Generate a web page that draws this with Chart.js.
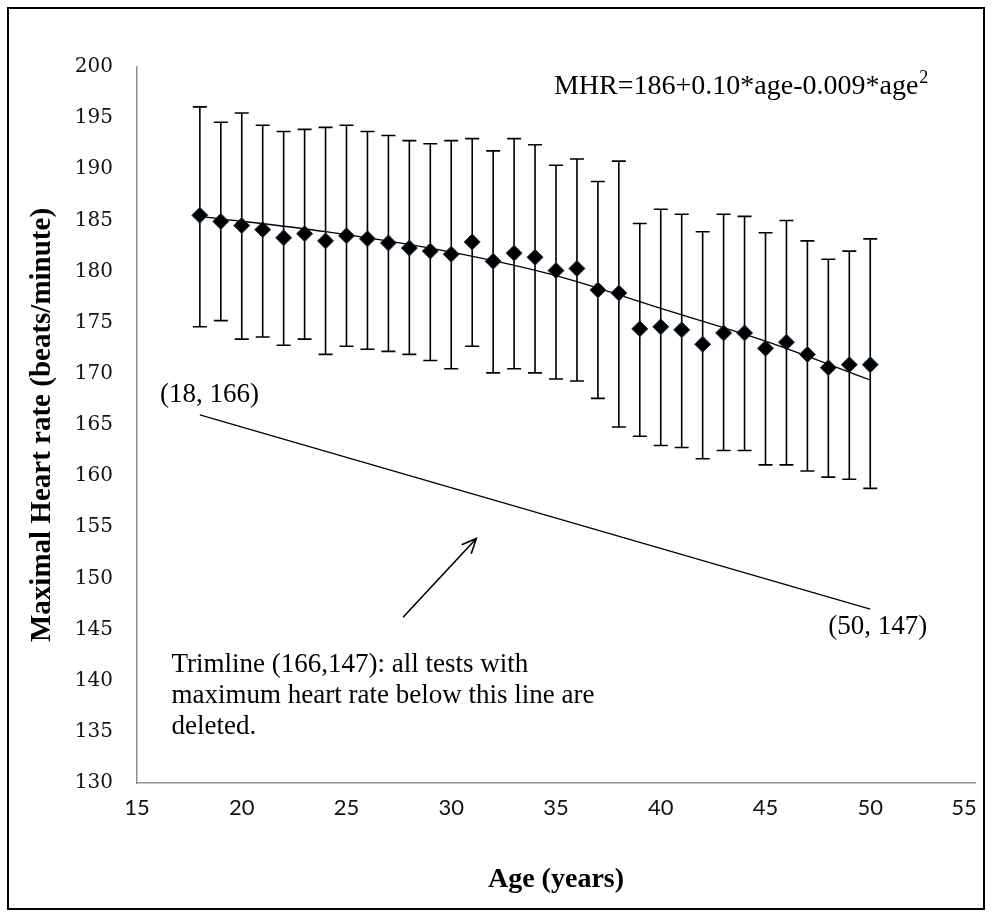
<!DOCTYPE html>
<html>
<head>
<meta charset="utf-8">
<script src="https://cdn.jsdelivr.net/npm/chart.js@4.4.1/dist/chart.umd.min.js"></script>
<style>
  html, body { margin: 0; padding: 0; background: #fff; }
  #wrap { width: 992px; height: 917px; }
</style>
</head>
<body>
<div id="wrap"><canvas id="mhr" width="992" height="917"></canvas></div>
<script>
//------------------------------------------------------------------
// Maximal heart rate by age, with SD bars, fit and trimline
//------------------------------------------------------------------
const ages = [18, 19, 20, 21, 22, 23, 24, 25, 26, 27, 28, 29, 30, 31, 32, 33, 34,
              35, 36, 37, 38, 39, 40, 41, 42, 43, 44, 45, 46, 47, 48, 49, 50];
const mhrMean = [185.5, 184.9, 184.5, 184.1, 183.3, 183.7, 183.0, 183.5, 183.2, 182.8, 182.3, 182.0, 181.7, 182.9, 181.0, 181.8, 181.4,
                 180.1, 180.3, 178.2, 177.9, 174.4, 174.6, 174.3, 172.9, 174.0, 174.0, 172.5, 173.1, 171.9, 170.6, 170.9, 170.9];
const mhrUpper = [196.1, 194.6, 195.5, 194.3, 193.7, 193.9, 194.1, 194.3, 193.7, 193.3, 192.8, 192.5, 192.8, 193.0, 191.8, 193.0, 192.4,
                  190.4, 191.0, 188.8, 190.8, 184.7, 186.1, 185.6, 183.9, 185.6, 185.4, 183.8, 185.0, 183.0, 181.2, 182.0, 183.2];
const mhrLower = [174.6, 175.2, 173.4, 173.6, 172.8, 173.4, 171.9, 172.7, 172.4, 172.2, 171.9, 171.3, 170.5, 172.7, 170.1, 170.5, 170.1,
                  169.5, 169.3, 167.6, 164.8, 163.9, 163.0, 162.8, 161.7, 162.5, 162.5, 161.1, 161.1, 160.5, 159.9, 159.7, 158.8];

// fitted curve
const trendAges = [18, 24, 30, 35, 40, 45, 50];
const trendMhr = [185.4, 183.9, 181.9, 179.6, 176.4, 173.2, 169.4];

// trimline end points
const trimAges = [18, 50];
const trimMhr = [166, 147];

// axes
const xRange = [15, 55, 5];
const yRange = [130, 200, 5];

const formulaText = 'MHR=186+0.10*age-0.009*age';
const formulaSup = '2';
const noteLines = ['Trimline (166,147): all tests with',
                   'maximum heart rate below this line are',
                   'deleted.'];
const endLabels = [
    {text: '(18, 166)', x: 16.1, y: 167.9},
    {text: '(50, 147)', x: 48.0, y: 145.3}
];
const arrowFrom = {x: 27.7, y: 146.2};
const arrowTo = {x: 31.2, y: 153.9};

const SERIF = '"Liberation Serif", "Times New Roman", serif';

/**
 * @name errorBars - vertical SD bars with caps, under the diamonds
 */
const errorBars = {
    id: 'errorBars',
    beforeDatasetsDraw(chart) {
        const {ctx, scales: {x, y}} = chart;
        ctx.save();
        ctx.strokeStyle = '#000';
        ctx.lineWidth = 1.6;
        ages.forEach((a, i) => {
            const px = x.getPixelForValue(a);
            const top = y.getPixelForValue(mhrUpper[i]);
            const bot = y.getPixelForValue(mhrLower[i]);
            ctx.beginPath();
            ctx.moveTo(px, top); ctx.lineTo(px, bot);
            ctx.moveTo(px - 7, top); ctx.lineTo(px + 7, top);
            ctx.moveTo(px - 7, bot); ctx.lineTo(px + 7, bot);
            ctx.stroke();
        });
        ctx.restore();
    }
};

/**
 * @name notes - formula, labels, arrow, frame
 */
const notes = {
    id: 'notes',
    afterDraw(chart) {
        const {ctx, scales: {x, y}} = chart;
        ctx.save();
        // outer frame
        ctx.strokeStyle = '#000';
        ctx.lineWidth = 2;
        ctx.strokeRect(8, 8, 976, 901);

        ctx.fillStyle = '#000';
        ctx.textBaseline = 'middle';
        ctx.textAlign = 'left';

        // formula
        ctx.font = '28px ' + SERIF;
        const fx = x.getPixelForValue(34.9), fy = y.getPixelForValue(198.1);
        ctx.fillText(formulaText, fx, fy);
        const w = ctx.measureText(formulaText).width;
        ctx.font = '18px ' + SERIF;
        ctx.fillText(formulaSup, fx + w + 1, fy - 8);

        // end labels of trimline
        ctx.font = '27px ' + SERIF;
        endLabels.forEach(l => ctx.fillText(l.text, x.getPixelForValue(l.x), y.getPixelForValue(l.y)));

        // note text
        const nx = x.getPixelForValue(16.65), ny = y.getPixelForValue(141.5);
        noteLines.forEach((t, i) => ctx.fillText(t, nx, ny + i * 31));

        // arrow
        const ax0 = x.getPixelForValue(arrowFrom.x), ay0 = y.getPixelForValue(arrowFrom.y);
        const ax1 = x.getPixelForValue(arrowTo.x), ay1 = y.getPixelForValue(arrowTo.y);
        const ang = Math.atan2(ay1 - ay0, ax1 - ax0);
        ctx.strokeStyle = '#000';
        ctx.lineWidth = 1.6;
        ctx.beginPath();
        ctx.moveTo(ax0, ay0); ctx.lineTo(ax1, ay1);
        ctx.moveTo(ax1 - 16 * Math.cos(ang - 0.42), ay1 - 16 * Math.sin(ang - 0.42));
        ctx.lineTo(ax1, ay1);
        ctx.lineTo(ax1 - 16 * Math.cos(ang + 0.42), ay1 - 16 * Math.sin(ang + 0.42));
        ctx.stroke();
        ctx.restore();
    }
};

const data_mhr = {
    datasets: [
        {
            label: 'MHR',
            data: ages.map((a, i) => ({x: a, y: mhrMean[i]})),
            showLine: false,
            pointStyle: 'rectRot',
            pointRadius: 8,
            pointBackgroundColor: '#000',
            pointBorderColor: '#1d3350',
            pointBorderWidth: 1
        },
        {
            label: 'Fit',
            type: 'line',
            data: trendAges.map((a, i) => ({x: a, y: trendMhr[i]})),
            borderColor: '#000',
            borderWidth: 1.3,
            pointRadius: 0,
            cubicInterpolationMode: 'monotone',
            fill: false
        },
        {
            label: 'Trimline',
            type: 'line',
            data: trimAges.map((a, i) => ({x: a, y: trimMhr[i]})),
            borderColor: '#000',
            borderWidth: 1.3,
            pointRadius: 0,
            fill: false
        }
    ]
};

const chart = new Chart(document.getElementById('mhr'), {
    type: 'scatter',
    data: data_mhr,
    plugins: [errorBars, notes],
    options: {
        responsive: false,
        animation: false,
        layout: {padding: {left: 20, top: 67, right: 17, bottom: 12}},
        plugins: {legend: {display: false}, tooltip: {enabled: false}},
        scales: {
            x: {
                type: 'linear',
                min: xRange[0], max: xRange[1],
                ticks: {stepSize: xRange[2], padding: 12, color: '#111118',
                        font: {family: 'Lato', size: 22},
                        // last label is pushed inside the frame, as in the original
                        callback: v => v === xRange[1] ? v + '\u2002\u2002' : v},
                grid: {display: false, drawTicks: false},
                border: {display: true, color: '#8f8f8f', width: 1.5},
                title: {display: true, text: 'Age (years)', color: '#000',
                        font: {family: SERIF, size: 28, weight: 'bold'},
                        padding: {top: 0, bottom: 8}},
                afterFit: s => { s.height = 917 - 783 - 12; s.paddingLeft = 0; s.paddingRight = 0; }
            },
            y: {
                min: yRange[0], max: yRange[1],
                ticks: {stepSize: yRange[2], padding: 24, color: '#111118',
                        font: {family: 'DejaVu Serif', size: 20}},
                grid: {display: false, drawTicks: false},
                border: {display: true, color: '#8f8f8f', width: 1.5},
                title: {display: true, text: 'Maximal Heart rate (beats/minute)', color: '#000',
                        font: {family: SERIF, size: 29, weight: 'bold'},
                        padding: {top: 5, bottom: 0}},
                afterFit: s => { s.width = 137 - 20; s.paddingTop = 0; s.paddingBottom = 0; }
            }
        }
    }
});
</script>
</body>
</html>
